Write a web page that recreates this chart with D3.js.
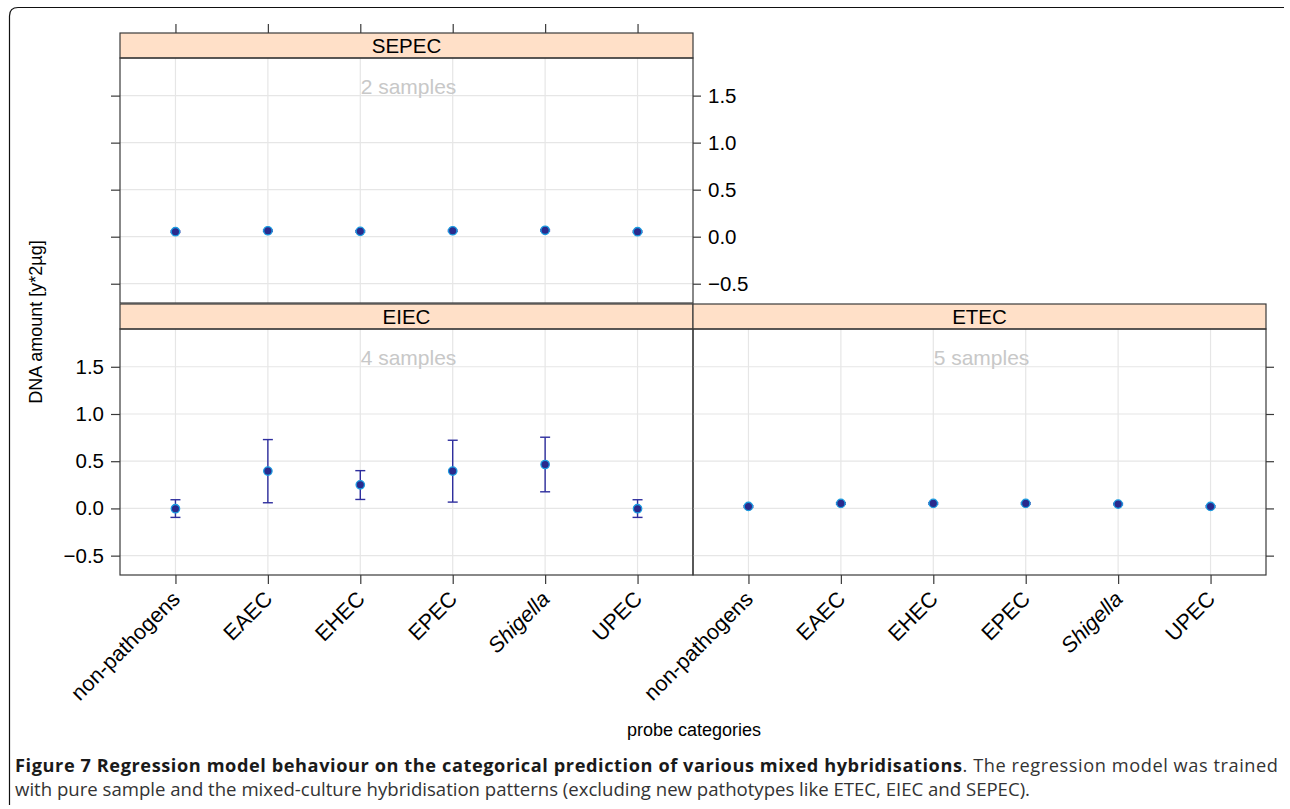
<!DOCTYPE html>
<html><head><meta charset="utf-8">
<script src="https://cdn.jsdelivr.net/npm/d3@7"></script>
<style>body{margin:0;background:#fff}svg{display:block}</style>
</head><body>
<svg id="c" width="1290" height="809"></svg>
<script>
const categories = ["non-pathogens","EAEC","EHEC","EPEC","Shigella","UPEC"];
const italicCats = ["Shigella"];
const yTicks = [-0.5, 0.0, 0.5, 1.0, 1.5];
const yTickLabels = ["\u22120.5","0.0","0.5","1.0","1.5"];
const panelNames = ["SEPEC","EIEC","ETEC"];
const panelSamples = ["2 samples","4 samples","5 samples"];
const sepecMean = [0.053,0.063,0.057,0.063,0.068,0.053];
const sepecLow  = [0.045,0.055,0.049,0.055,0.060,0.045];
const sepecHigh = [0.061,0.071,0.065,0.071,0.076,0.061];
const eiecMean = [-0.003,0.395,0.250,0.395,0.465,-0.003];
const eiecLow  = [-0.095,0.060,0.095,0.067,0.176,-0.095];
const eiecHigh = [0.092,0.729,0.400,0.722,0.754,0.092];
const etecMean = [0.021,0.053,0.053,0.053,0.046,0.021];
const etecLow  = [0.013,0.045,0.045,0.045,0.038,0.013];
const etecHigh = [0.029,0.061,0.061,0.061,0.054,0.029];
const yLabel = "DNA amount [y*2\u00b5g]";
const xLabel = "probe categories";
const captionBold = "Figure 7 Regression model behaviour on the categorical prediction of various mixed hybridisations";
const captionRest1 = ". The regression model was trained";
const captionLine2 = "with pure sample and the mixed-culture hybridisation patterns (excluding new pathotypes like ETEC, EIEC and SEPEC).";

const svg = d3.select("#c");
const FONT = "'Liberation Sans', Arial, Helvetica, sans-serif";

svg.append("path")
  .attr("d","M9.5,805 L9.5,16 Q9.5,7.5 18,7.5 L1284,7.5")
  .attr("fill","none").attr("stroke","#111").attr("stroke-width",1.2);

const colX = [120, 693];
const colW = 573;
const stripH = 25;
const panels = [
  {i:0, col:0, top:33, bottom:303, mean:sepecMean, lo:sepecLow, hi:sepecHigh},
  {i:1, col:0, top:304, bottom:575, mean:eiecMean, lo:eiecLow, hi:eiecHigh},
  {i:2, col:1, top:304, bottom:575, mean:etecMean, lo:etecLow, hi:etecHigh}
];
const xp = d3.scalePoint().domain(categories).range([0,colW]).padding(0.6);

panels.forEach(p => {
  const x0 = colX[p.col];
  const plotTop = p.top + stripH;
  const y = d3.scaleLinear().domain([-0.705, 1.9]).range([p.bottom, plotTop]);
  const g = svg.append("g").attr("transform",`translate(${x0},0)`);
  g.selectAll(".gy").data(yTicks).join("line")
    .attr("x1",0).attr("x2",colW).attr("y1",d=>y(d)).attr("y2",d=>y(d))
    .attr("stroke","#e6e6e6").attr("stroke-width",1.2);
  g.selectAll(".gx").data(categories).join("line")
    .attr("x1",d=>xp(d)).attr("x2",d=>xp(d)).attr("y1",plotTop).attr("y2",p.bottom)
    .attr("stroke","#e6e6e6").attr("stroke-width",1.2);
  g.append("text").attr("x",colW/2+2).attr("y",plotTop+36).attr("text-anchor","middle")
    .attr("font-family",FONT).attr("font-size",21).attr("fill","#c8c8c8").text(panelSamples[p.i]);
  const eb = g.selectAll(".eb").data(categories).join("g").attr("stroke","#2e2e9e").attr("stroke-width",1.4);
  eb.append("line").attr("x1",d=>xp(d)).attr("x2",d=>xp(d))
    .attr("y1",(d,k)=>y(p.lo[k])).attr("y2",(d,k)=>y(p.hi[k]));
  eb.append("line").attr("x1",d=>xp(d)-5).attr("x2",d=>xp(d)+5)
    .attr("y1",(d,k)=>y(p.lo[k])).attr("y2",(d,k)=>y(p.lo[k]));
  eb.append("line").attr("x1",d=>xp(d)-5).attr("x2",d=>xp(d)+5)
    .attr("y1",(d,k)=>y(p.hi[k])).attr("y2",(d,k)=>y(p.hi[k]));
  g.selectAll(".pt").data(categories).join("circle")
    .attr("cx",d=>xp(d)).attr("cy",(d,k)=>y(p.mean[k])).attr("r",4.2)
    .attr("fill","#2a2a8c").attr("stroke","#1b9be0").attr("stroke-width",1.3);
  g.append("rect").attr("x",0).attr("y",p.top).attr("width",colW).attr("height",stripH)
    .attr("fill","#ffe0c8").attr("stroke","#3a3a3a").attr("stroke-width",1.2);
  g.append("text").attr("x",colW/2).attr("y",p.top+19.5).attr("text-anchor","middle")
    .attr("font-family",FONT).attr("font-size",20.5).attr("fill","#000").text(panelNames[p.i]);
  g.append("rect").attr("x",0).attr("y",plotTop).attr("width",colW).attr("height",p.bottom-plotTop)
    .attr("fill","none").attr("stroke","#3a3a3a").attr("stroke-width",1.2);

  const yAxisL = d3.axisLeft(y).tickValues(yTicks).tickSize(9).tickPadding(7)
    .tickFormat((d,k)=>yTickLabels[k]);
  const yAxisR = d3.axisRight(y).tickValues(yTicks).tickSize(8).tickPadding(7)
    .tickFormat((d,k)=>yTickLabels[k]);
  const style = sel => {
    sel.select(".domain").remove();
    sel.selectAll(".tick line").attr("stroke","#3a3a3a").attr("stroke-width",1.2);
    sel.selectAll(".tick text").attr("font-family",FONT).attr("font-size",20.5).attr("fill","#000");
  };
  if (p.i === 0) {
    g.append("g").call(yAxisL.tickFormat("")).call(style);
    g.append("g").attr("transform",`translate(${colW},0)`).call(yAxisR).call(style);
    g.append("g").attr("transform",`translate(0,${p.top})`)
      .call(d3.axisTop(xp).tickSize(9).tickFormat("")).call(style);
  } else if (p.i === 1) {
    g.append("g").call(yAxisL).call(style);
  } else {
    g.append("g").attr("transform",`translate(${colW},0)`).call(yAxisR.tickFormat("")).call(style);
  }
  if (p.i !== 0) {
    const xa = g.append("g").attr("transform",`translate(0,${p.bottom})`)
      .call(d3.axisBottom(xp).tickSize(9).tickPadding(0)).call(style);
    xa.selectAll(".tick text")
      .attr("text-anchor","end").attr("dy","0.35em")
      .attr("transform","translate(0,20) rotate(-45)")
      .attr("y",0).attr("x",0)
      .attr("font-size",21.5)
      .attr("font-style",d=>italicCats.includes(d)?"italic":"normal");
  }
});

svg.append("text").attr("transform","translate(42,322) rotate(-90)").attr("text-anchor","middle")
  .attr("font-family",FONT).attr("font-size",18).attr("fill","#000").text(yLabel);
svg.append("text").attr("x",694).attr("y",736).attr("text-anchor","middle")
  .attr("font-family",FONT).attr("font-size",18).attr("fill","#000").text(xLabel);

const cap = svg.append("text").attr("x",15).attr("y",772)
  .attr("font-family","'Open Sans', sans-serif").attr("font-size",18.2)
  .attr("textLength",1263).attr("lengthAdjust","spacing");
cap.append("tspan").attr("font-weight","bold").attr("fill","#1a1a1a").text(captionBold);
cap.append("tspan").attr("fill","#333").text(captionRest1);
svg.append("text").attr("x",15).attr("y",796)
  .attr("font-family","'Open Sans', sans-serif").attr("font-size",18.6).attr("fill","#333")
  .attr("textLength",1015).attr("lengthAdjust","spacing").text(captionLine2);
</script>
</body></html>
